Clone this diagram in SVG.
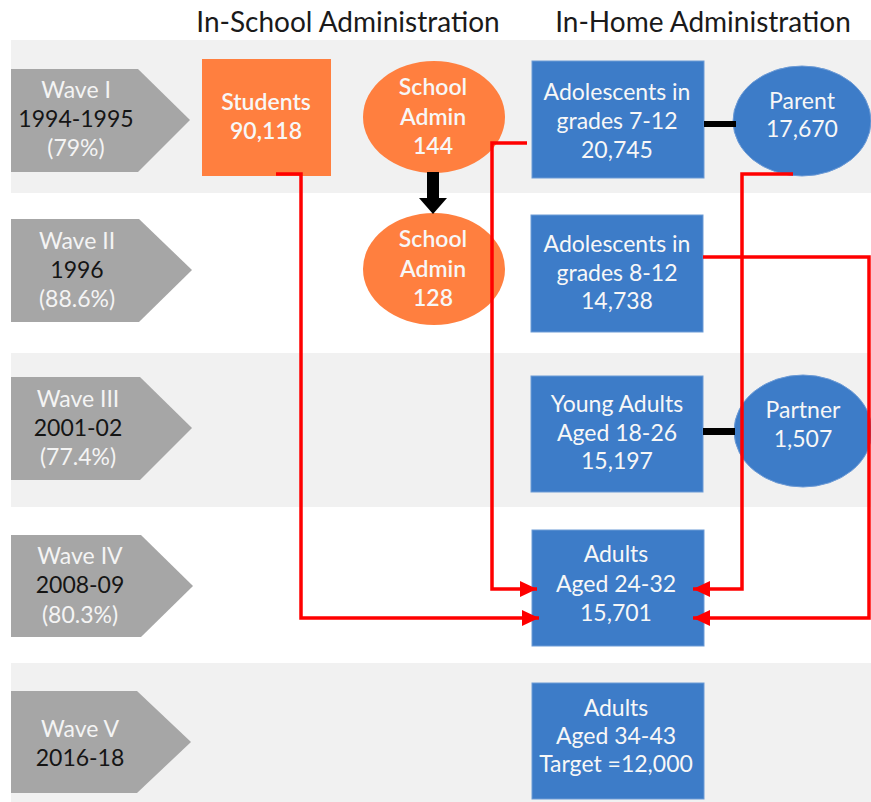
<svg xmlns="http://www.w3.org/2000/svg" width="871" height="802" viewBox="0 0 871 802">
<style>
text{font-family:Lato,"Open Sans","Liberation Sans",sans-serif;font-size:23px;text-anchor:middle}
.band{fill:#f1f1f1}
.wave{fill:#a6a6a6}
.wl{fill:#f4f4f4}
.wd{fill:#151515}
.hdr{font-size:28px;fill:#1a1a1a}
.blue{fill:#3d7cc8;stroke:#6d9bd6;stroke-width:1}
.orange{fill:#ff7f3f}
.nt{fill:#f7f7f7}
.red{fill:none;stroke:#ff0000;stroke-width:3.5;marker-end:url(#ah)}
.blk{fill:#000}
</style>
<defs>
<marker id="ah" markerUnits="userSpaceOnUse" markerWidth="18" markerHeight="16" refX="17" refY="8" orient="auto">
<path d="M0,0 L17,8 L0,16 z" fill="#ff0000"/>
</marker>
</defs>
<rect width="871" height="802" fill="#ffffff"/>
<g id="bands">
<rect class="band" x="11" y="40" width="860" height="153"/>
<rect class="band" x="11" y="353" width="860" height="154"/>
<rect class="band" x="11" y="663" width="860" height="139"/>
</g>
<g id="headers">
<text class="hdr" x="348" y="32">In-School Administration</text>
<text class="hdr" x="703" y="32">In-Home Administration</text>
</g>
<g id="wave1">
<polygon class="wave" points="11,69 138,69 190,120 138,172 11,172"/>
<text class="wl" x="76" y="98">Wave I</text>
<text class="wd" x="76" y="127">1994-1995</text>
<text class="wl" x="76" y="156">(79%)</text>
</g>
<g id="wave2">
<polygon class="wave" points="11,219 139,219 192,270 139,322 11,322"/>
<text class="wl" x="77" y="249">Wave II</text>
<text class="wd" x="77" y="278">1996</text>
<text class="wl" x="77" y="307">(88.6%)</text>
</g>
<g id="wave3">
<polygon class="wave" points="11,377 140,377 192,428 140,480 11,480"/>
<text class="wl" x="78" y="407">Wave III</text>
<text class="wd" x="78" y="436">2001-02</text>
<text class="wl" x="78" y="465">(77.4%)</text>
</g>
<g id="wave4">
<polygon class="wave" points="11,535 141,535 193,586 141,637 11,637"/>
<text class="wl" x="80" y="564">Wave IV</text>
<text class="wd" x="80" y="593">2008-09</text>
<text class="wl" x="80" y="623">(80.3%)</text>
</g>
<g id="wave5">
<polygon class="wave" points="11,691 137,691 191,742 137,793 11,793"/>
<text class="wl" x="80" y="737">Wave V</text>
<text class="wd" x="80" y="766">2016-18</text>
</g>
<g id="students">
<rect class="orange" x="202" y="59" width="129" height="117"/>
<text class="nt" x="266" y="110" font-weight="600">Students</text>
<text class="nt" x="266" y="139" font-weight="600">90,118</text>
</g>
<g id="schooladmin1">
<ellipse class="orange" cx="434" cy="117" rx="71" ry="56"/>
<text class="nt" x="433" y="95" font-weight="600">School</text>
<text class="nt" x="433" y="125" font-weight="600">Admin</text>
<text class="nt" x="433" y="154" font-weight="600">144</text>
</g>
<g id="schooladmin2">
<ellipse class="orange" cx="434" cy="269" rx="71" ry="56"/>
<text class="nt" x="433" y="247" font-weight="600">School</text>
<text class="nt" x="433" y="277" font-weight="600">Admin</text>
<text class="nt" x="433" y="306" font-weight="600">128</text>
</g>
<g id="adol1">
<rect class="blue" x="532" y="61" width="172" height="117"/>
<text class="nt" x="617" y="100">Adolescents in</text>
<text class="nt" x="617" y="129">grades 7-12</text>
<text class="nt" x="617" y="158">20,745</text>
</g>
<g id="parent">
<ellipse class="blue" cx="802" cy="121" rx="69" ry="55"/>
<text class="nt" x="802" y="109">Parent</text>
<text class="nt" x="802" y="137">17,670</text>
</g>
<g id="adol2">
<rect class="blue" x="531" y="215" width="172" height="117"/>
<text class="nt" x="617" y="252">Adolescents in</text>
<text class="nt" x="617" y="281">grades 8-12</text>
<text class="nt" x="617" y="309">14,738</text>
</g>
<g id="young">
<rect class="blue" x="531" y="376" width="172" height="116"/>
<text class="nt" x="617" y="412">Young Adults</text>
<text class="nt" x="617" y="441">Aged 18-26</text>
<text class="nt" x="617" y="469">15,197</text>
</g>
<g id="partner">
<ellipse class="blue" cx="803" cy="431" rx="69" ry="56"/>
<text class="nt" x="803" y="418">Partner</text>
<text class="nt" x="803" y="447">1,507</text>
</g>
<g id="adults4">
<rect class="blue" x="532" y="530" width="172" height="116"/>
<text class="nt" x="616" y="562">Adults</text>
<text class="nt" x="616" y="592">Aged 24-32</text>
<text class="nt" x="616" y="621">15,701</text>
</g>
<g id="adults5">
<rect class="blue" x="532" y="683" width="172" height="116"/>
<text class="nt" x="616" y="716">Adults</text>
<text class="nt" x="616" y="744">Aged 34-43</text>
<text class="nt" x="616" y="772">Target =12,000</text>
</g>
<g id="connectors">
<rect class="blk" x="427" y="172" width="12" height="27"/>
<polygon class="blk" points="419,198 447,198 433,214"/>
<rect class="blk" x="704" y="121" width="32" height="6"/>
<rect class="blk" x="703" y="428" width="32" height="7"/>
<path class="red" d="M276,174 H301 V618 H539"/>
<path class="red" d="M527,143 H492 V589 H537"/>
<path class="red" d="M793,174 H742 V589 H693"/>
<path class="red" d="M703,257 H869 V618 H693"/>
</g>
</svg>
